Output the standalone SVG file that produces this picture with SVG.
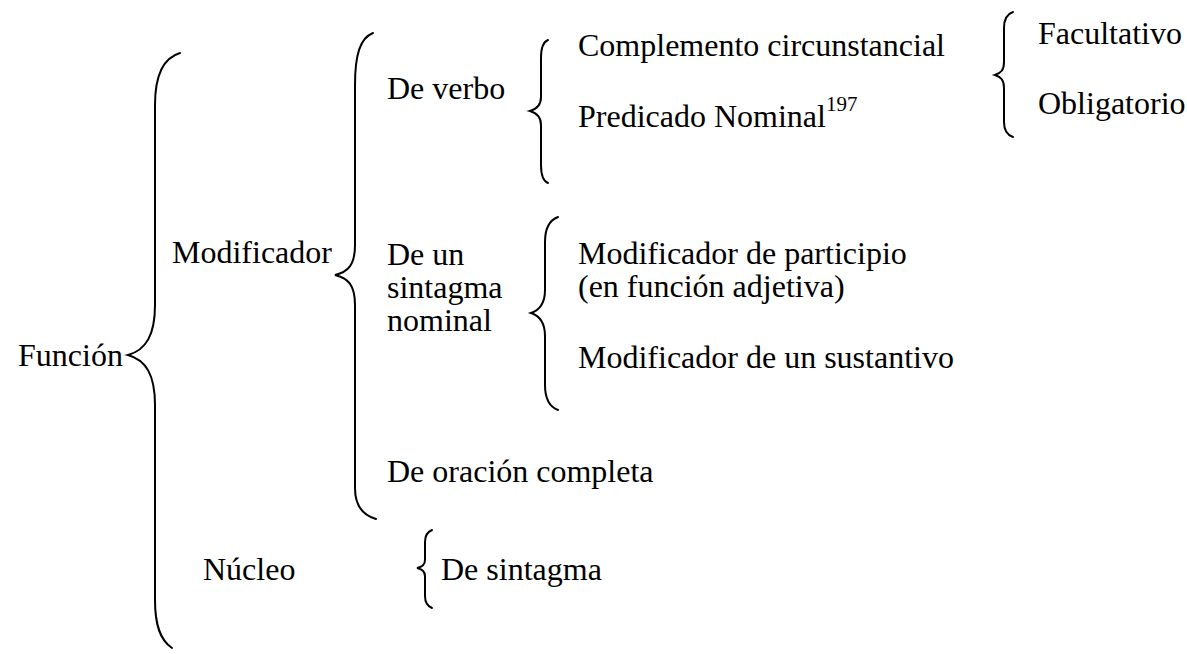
<svg xmlns="http://www.w3.org/2000/svg" width="1187" height="654" viewBox="0 0 1187 654">
<style>
.brace{fill:none;stroke:#000;stroke-width:2;stroke-linecap:round}
.lbl{font-family:'Liberation Serif','Times New Roman',serif;font-size:32px;fill:#000}
.sup{font-size:21px}
</style>
<rect width="1187" height="654" fill="#fff"/>
<g id="connectors">
<path class="brace" d="M180 53 C163 58 155 75 155 105 L155 305 C155 335 146 350 128 355 C146 360 155 375 155 405 L155 600 C155 625 160 640 172 648"/>
<path class="brace" d="M373 33 C360 38 355 55 355 85 L355 245 C355 265 348 272 335 275 C348 278 355 285 355 305 L355 488 C355 505 362 515 376 519"/>
<path class="brace" d="M548 40 C543 42 541 48 541 58 L541 97 C541 105 537 109 530 111 C537 113 541 117 541 125 L541 165 C541 175 543 181 548 183"/>
<path class="brace" d="M1013 12 C1007 14 1004 19 1004 28 L1004 62 C1004 70 1001 73 995 75 C1001 77 1004 80 1004 88 L1004 122 C1004 131 1007 135 1013 137"/>
<path class="brace" d="M558 217 C550 220 545 228 545 242 L545 290 C545 303 540 310 531 313 C540 316 545 323 545 336 L545 385 C545 399 550 407 558 410"/>
<path class="brace" d="M432 530 C427 532 425 536 425 542 L425 560 C425 565 422 567 417 568 C422 569 425 571 425 576 L425 596 C425 602 427 606 432 608"/>
</g>
<g id="n-funcion"><text class="lbl" font-family="'Liberation Serif'" x="18" y="366">Función</text></g>
<g id="n-modificador"><text class="lbl" font-family="'Liberation Serif'" x="172" y="263">Modificador</text></g>
<g id="n-nucleo"><text class="lbl" font-family="'Liberation Serif'" x="203" y="580">Núcleo</text></g>
<g id="n-deverbo"><text class="lbl" font-family="'Liberation Serif'" x="387" y="99">De verbo</text></g>
<g id="n-complemento"><text class="lbl" font-family="'Liberation Serif'" x="578" y="56">Complemento circunstancial</text></g>
<g id="n-predicado"><text class="lbl" font-family="'Liberation Serif'" x="578" y="127">Predicado Nominal<tspan class="sup" dy="-16">197</tspan></text></g>
<g id="n-facultativo"><text class="lbl" font-family="'Liberation Serif'" x="1038" y="44">Facultativo</text></g>
<g id="n-obligatorio"><text class="lbl" font-family="'Liberation Serif'" x="1038" y="114">Obligatorio</text></g>
<g id="n-sintagmanominal"><text class="lbl" font-family="'Liberation Serif'" x="387" y="265">De un</text><text class="lbl" font-family="'Liberation Serif'" x="387" y="298">sintagma</text><text class="lbl" font-family="'Liberation Serif'" x="387" y="331">nominal</text></g>
<g id="n-participio"><text class="lbl" font-family="'Liberation Serif'" x="578" y="264">Modificador de participio</text><text class="lbl" font-family="'Liberation Serif'" x="578" y="297">(en función adjetiva)</text></g>
<g id="n-sustantivo"><text class="lbl" font-family="'Liberation Serif'" x="578" y="368">Modificador de un sustantivo</text></g>
<g id="n-oracion"><text class="lbl" font-family="'Liberation Serif'" x="387" y="482">De oración completa</text></g>
<g id="n-desintagma"><text class="lbl" font-family="'Liberation Serif'" x="441" y="580">De sintagma</text></g>
</svg>
